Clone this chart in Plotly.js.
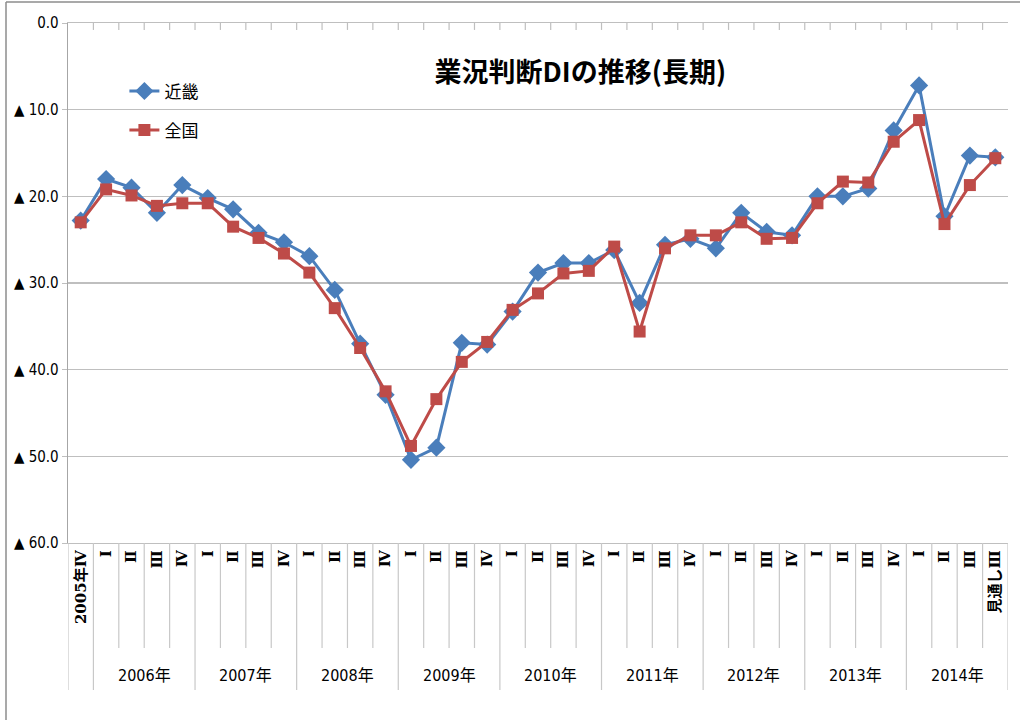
<!DOCTYPE html>
<html><head><meta charset="utf-8">
<script src="https://cdn.plot.ly/plotly-3.0.1.min.js"></script>
<style>body{margin:0;background:#fff}#chart{width:1020px;height:720px}</style>
</head><body><div id="chart"></div>
<script>
const quarterLabels = ['2005年Ⅳ',
  'Ⅰ','Ⅱ','Ⅲ','Ⅳ', 'Ⅰ','Ⅱ','Ⅲ','Ⅳ', 'Ⅰ','Ⅱ','Ⅲ','Ⅳ', 'Ⅰ','Ⅱ','Ⅲ','Ⅳ',
  'Ⅰ','Ⅱ','Ⅲ','Ⅳ', 'Ⅰ','Ⅱ','Ⅲ','Ⅳ', 'Ⅰ','Ⅱ','Ⅲ','Ⅳ', 'Ⅰ','Ⅱ','Ⅲ','Ⅳ',
  'Ⅰ','Ⅱ','Ⅲ','見通しⅢ'];
const yearLabels = ['2006年','2007年','2008年','2009年','2010年','2011年','2012年','2013年','2014年'];
const kinki = [22.8, 18.0, 19.0, 21.9, 18.7, 20.2, 21.5, 24.2, 25.3, 26.9, 30.8, 37.0, 42.9, 50.4, 49.0, 36.9, 37.1, 33.3, 28.8, 27.7, 27.7, 26.2, 32.3, 25.6, 24.9, 26.0, 21.9, 24.1, 24.5, 20.0, 20.0, 19.1, 12.4, 7.2, 22.3, 15.3, 15.5];
const zenkoku = [23.0, 19.2, 19.9, 21.1, 20.8, 20.8, 23.5, 24.8, 26.6, 28.8, 32.9, 37.5, 42.5, 48.8, 43.4, 39.1, 36.8, 33.1, 31.2, 28.9, 28.6, 25.8, 35.6, 26.0, 24.5, 24.5, 23.0, 24.9, 24.8, 20.8, 18.3, 18.4, 13.7, 11.2, 23.2, 18.7, 15.6];
const yTickVals = [0, 10, 20, 30, 40, 50, 60];
const yTickText = ['0.0', '▲ 10.0', '▲ 20.0', '▲ 30.0', '▲ 40.0', '▲ 50.0', '▲ 60.0'];
const seriesNames = ['近畿', '全国'];

const n = quarterLabels.length;
const idx = quarterLabels.map((_, i) => i);
const narrow = "'Liberation Sans Narrow','DejaVu Sans Condensed','Noto Sans CJK JP',sans-serif";
const cjk = "'Noto Sans CJK JP',sans-serif";
const tickFam = "'DejaVu Serif','Noto Sans CJK JP',serif";

const plotH = 520;
const shapes = [];
for (let b = 0; b <= n; b++) {
  const xb = b - 0.5;
  const isYear = (b === 0) || (b === n) || ((b - 1) % 4 === 0);
  shapes.push({type:'line', xref:'x', yref:'paper', x0:xb, x1:xb, y0:0, y1: isYear ? -147/plotH : -105/plotH,
    line:{color:'#c8c8c8', width:1.2}});
  if (b > 0 && b < n) {
    shapes.push({type:'line', xref:'x', yref:'y', x0:xb, x1:xb, y0:0, y1:0.8, line:{color:'#bfbfbf', width:1.2}});
  }
}
// outer chart frame
shapes.push({type:'line', xref:'paper', yref:'paper', x0:-62/940, x1:-62/940, y0:-0.5, y1:1+21/plotH, line:{color:'#8c8c8c', width:1.5}});
shapes.push({type:'line', xref:'paper', yref:'paper', x0:-62/940, x1:1.1, y0:1+21/plotH, y1:1+21/plotH, line:{color:'#8c8c8c', width:1.5}});

const annotations = yearLabels.map((t, k) => ({
  text: t, xref:'x', yref:'paper', x: 2.5 + 4*k, y: -132/plotH, showarrow:false,
  xanchor:'center', yanchor:'middle', font:{family:narrow, size:16, color:'#000'}
}));

const traces = [
  {x: idx, y: kinki, name: seriesNames[0], type:'scatter', mode:'lines+markers', legendgroup:'a',
   line:{color:'#4a7ebb', width:3}, marker:{symbol:'diamond', size:14, color:'#4a7ebb'}},
  {x: idx, y: zenkoku, name: seriesNames[1], type:'scatter', mode:'lines+markers', legendgroup:'b',
   line:{color:'#be4b48', width:3}, marker:{symbol:'square', size:12, color:'#be4b48'}}
];

const layout = {
  width:1020, height:720,
  margin:{l:68, r:12, t:23, b:177},
  paper_bgcolor:'#fff', plot_bgcolor:'#fff',
  showlegend:true,
  title:{text:'業況判断DIの推移(長期)', x:0.545, xref:'paper', xanchor:'center', y:1-73/720, yanchor:'middle',
    font:{family:cjk, size:27, color:'#000', weight:'bold'}},
  legend:{x:0.060, y:0.903, xanchor:'left', yanchor:'top', bgcolor:'rgba(0,0,0,0)', traceorder:'grouped',
    tracegroupgap:14, font:{family:cjk, size:17, color:'#000'}},
  xaxis:{range:[-0.5, n-0.5], tickvals: idx, ticktext: quarterLabels, tickangle:-90, ticks:'',
    showgrid:false, zeroline:false, showline:true, mirror:true, linecolor:'#bfbfbf', linewidth:1.3,
    tickfont:{family:tickFam, size:15, color:'#000', weight:'bold'}, fixedrange:true},
  yaxis:{range:[60, 0], tickvals:yTickVals, ticktext:yTickText, ticks:'outside', ticklen:5, tickcolor:'#bfbfbf',
    showgrid:true, gridcolor:'#bfbfbf', gridwidth:1.3, zeroline:false, showline:true, linecolor:'#a6a6a6', linewidth:1.3,
    tickfont:{family:narrow, size:15, color:'#000'}, fixedrange:true},
  shapes: shapes,
  annotations: annotations
};
Plotly.newPlot('chart', traces, layout, {displayModeBar:false, staticPlot:true});
</script></body></html>
